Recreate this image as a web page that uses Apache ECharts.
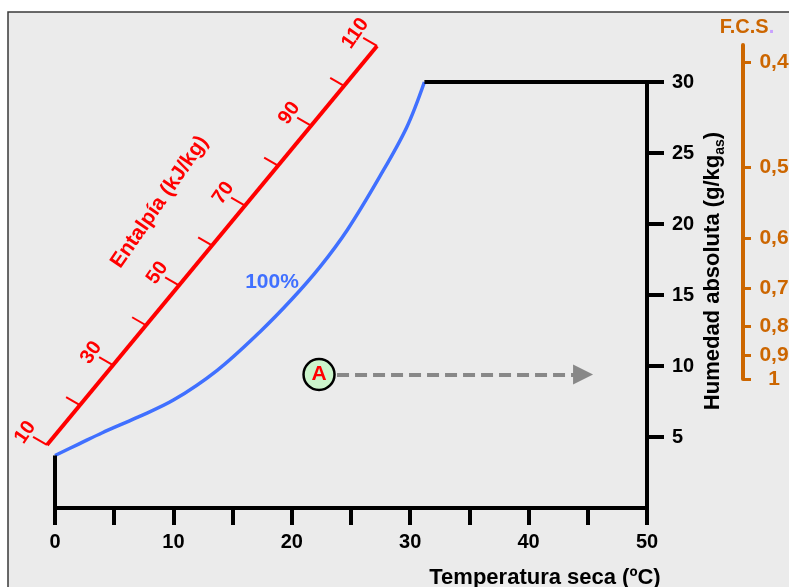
<!DOCTYPE html>
<html><head><meta charset="utf-8">
<script src="https://cdn.jsdelivr.net/npm/echarts@6/dist/echarts.min.js"></script>
<style>html,body{margin:0;padding:0;background:#fff}#c{width:789px;height:587px}</style>
</head><body><div id="c"></div>
<script>
// ---- data ----
const saturationT = [0, 2, 4, 7, 10, 13.7, 17.3, 20, 22.4, 24.7, 27.4, 29.7, 31.2];
const saturationW = [3.7, 4.5, 5.3, 6.4, 7.6, 9.7, 12.4, 14.7, 17.0, 19.6, 23.3, 26.8, 30];
const yTickLabels = [5, 10, 15, 20, 25, 30];
const fcsTicks = [0.4, 0.5, 0.6, 0.7, 0.8, 0.9, 1];
const enthalpyTicks = [10, 20, 30, 40, 50, 60, 70, 80, 90, 100, 110];
const enthalpyLabels = [10, 30, 50, 70, 90, 110];
const enthalpyScaleStart = [-0.68, 4.44];   // h = 10 kJ/kg
const enthalpyScaleEnd = [27.2, 32.54];     // h = 110 kJ/kg
const pointA = [22.3, 9.4];
const arrowEndT = 44.6;

// ---- helpers ----
const FONT = '"Liberation Sans", Arial, sans-serif';
const ORANGE = '#cc6600';
const fcsValue = f => 1 / f - 1;
const fcsPositions = fcsTicks.map(fcsValue);
const fmtFcs = v => {
  const f = 1 / (1 + v);
  const r = Math.round(f * 10) / 10;
  return r === 1 ? '1' : r.toFixed(1).replace('.', ',');
};
const hMin = enthalpyTicks[0], hMax = enthalpyTicks[enthalpyTicks.length - 1];

const chart = echarts.init(document.getElementById('c'));
chart.setOption({
  backgroundColor: '#ffffff',
  animation: false,
  textStyle: { fontFamily: FONT },
  graphic: [
    { type: 'rect', z: -10, silent: true,
      shape: { x: 8, y: 12, width: 800, height: 600 },
      style: { fill: '#ebebeb', stroke: '#3a3a3a', lineWidth: 1.5 } },
    { type: 'text', x: 545, y: 578,
      style: { text: 'Temperatura seca (ºC)', font: 'bold 22px ' + FONT, fill: '#000',
               align: 'center', verticalAlign: 'middle', textAlign: 'center', textVerticalAlign: 'middle' } },
    { type: 'text', x: 713, y: 271, rotation: Math.PI / 2,
      style: { text: 'Humedad absoluta (g/kg{s|as})', font: 'bold 22px ' + FONT, fill: '#000',
               align: 'center', verticalAlign: 'middle', textAlign: 'center', textVerticalAlign: 'middle',
               rich: { s: { fontSize: 14, fontWeight: 'bold', fill: '#000', verticalAlign: 'bottom', padding: [14, 0, 0, 0] } } } },
    { type: 'text', x: 272, y: 282,
      style: { text: '100%', font: 'bold 21px ' + FONT, fill: '#4070ff',
               align: 'center', verticalAlign: 'middle', textAlign: 'center', textVerticalAlign: 'middle' } }
  ],
  grid: [
    { left: 55, right: 142, top: 82, bottom: 79, outerBoundsMode: 'none', containLabel: false },
    { left: 700, right: 46, top: 45, bottom: 208, outerBoundsMode: 'none', containLabel: false }
  ],
  xAxis: [
    { type: 'value', gridIndex: 0, min: 0, max: 50, interval: 5,
      axisLine: { onZero: false, lineStyle: { color: '#000', width: 4 } },
      axisTick: { length: 17, lineStyle: { color: '#000', width: 4 } },
      axisLabel: { margin: 24, color: '#000', fontSize: 20, fontWeight: 'bold',
                   formatter: v => (v % 10 === 0 ? String(v) : '') },
      splitLine: { show: false } },
    { type: 'value', gridIndex: 1, min: 0, max: 1, show: false }
  ],
  yAxis: [
    { type: 'value', gridIndex: 0, position: 'right', min: 0, max: 30, interval: 5,
      axisLine: { show: true, onZero: false, lineStyle: { color: '#000', width: 4 } },
      axisTick: { show: true, length: 17, customValues: yTickLabels, lineStyle: { color: '#000', width: 4 } },
      axisLabel: { margin: 25, color: '#000', fontSize: 20, fontWeight: 'bold', customValues: yTickLabels },
      splitLine: { show: false } },
    { type: 'value', gridIndex: 1, position: 'right', min: 0, max: 1.58,
      axisLine: { show: true, onZero: false, lineStyle: { color: ORANGE, width: 4 } },
      axisTick: { show: true, length: 8, customValues: fcsPositions, lineStyle: { color: ORANGE, width: 3 } },
      axisLabel: { margin: 31, align: 'center', color: ORANGE, fontSize: 21, fontWeight: 'bold',
                   customValues: fcsPositions, formatter: v => fmtFcs(v) },
      splitLine: { show: false },
      name: '{a|F.C.S}{b|.}', nameLocation: 'end', nameGap: 8,
      nameTextStyle: { padding: [0, 0, 0, 8],
        rich: { a: { color: ORANGE, fontSize: 20, fontWeight: 'bold' },
                b: { color: '#c8a0ff', fontSize: 20, fontWeight: 'bold' } } } }
  ],
  series: [
    { type: 'line', name: '100%', xAxisIndex: 0, yAxisIndex: 0, smooth: 0.35, showSymbol: false,
      data: saturationT.map((t, i) => [t, saturationW[i]]),
      lineStyle: { color: '#4070ff', width: 3.5 }, z: 3 },
    { type: 'line', xAxisIndex: 0, yAxisIndex: 0, showSymbol: false, clip: false,
      data: [[saturationT[0], 0], [saturationT[0], saturationW[0]]],
      lineStyle: { color: '#000', width: 4, cap: 'butt' }, z: 4 },
    { type: 'line', xAxisIndex: 0, yAxisIndex: 0, showSymbol: false, clip: false,
      data: [[saturationT[saturationT.length - 1], saturationW[saturationW.length - 1]], [50, 30]],
      lineStyle: { color: '#000', width: 4 }, z: 4 },
    { type: 'lines', coordinateSystem: 'cartesian2d', xAxisIndex: 0, yAxisIndex: 0,
      symbol: ['none', 'triangle'], symbolSize: 20,
      lineStyle: { color: '#888888', width: 4, type: [12, 6], opacity: 1 },
      data: [{ coords: [pointA, [arrowEndT, pointA[1]]] }], z: 5 },
    { type: 'scatter', xAxisIndex: 0, yAxisIndex: 0, data: [pointA], symbol: 'circle', symbolSize: 31,
      itemStyle: { color: '#ccf5cc', borderColor: '#000', borderWidth: 2.5, opacity: 1 },
      label: { show: true, position: 'inside', formatter: 'A', color: '#ff0000', fontSize: 21, fontWeight: 'bold' },
      z: 10 },
    { type: 'custom', xAxisIndex: 0, yAxisIndex: 0, clip: false, z: 6,
      data: [[0, 0]],
      renderItem: function (params, api) {
        const p0 = api.coord(enthalpyScaleStart);
        const p1 = api.coord(enthalpyScaleEnd);
        const ang = Math.atan2(-(p1[1] - p0[1]), p1[0] - p0[0]);
        const txtRot = ang + 5 * Math.PI / 180;
        const td = [-Math.cos(Math.PI / 6), -Math.sin(Math.PI / 6)];
        const at = h => {
          const t = (h - hMin) / (hMax - hMin);
          return [p0[0] + t * (p1[0] - p0[0]), p0[1] + t * (p1[1] - p0[1])];
        };
        const children = [{
          type: 'line', shape: { x1: p0[0], y1: p0[1], x2: p1[0], y2: p1[1] },
          style: { stroke: '#ff0000', lineWidth: 4 }
        }];
        enthalpyTicks.forEach(h => {
          const p = at(h);
          children.push({ type: 'line',
            shape: { x1: p[0], y1: p[1], x2: p[0] + td[0] * 16, y2: p[1] + td[1] * 16 },
            style: { stroke: '#ff0000', lineWidth: 2 } });
        });
        enthalpyLabels.forEach(h => {
          const p = at(h);
          children.push({ type: 'text', x: p[0] + td[0] * 25, y: p[1] + td[1] * 25, rotation: txtRot,
            style: { text: String(h), fill: '#ff0000', font: 'bold 20px ' + FONT,
                     align: 'center', verticalAlign: 'middle', textAlign: 'center', textVerticalAlign: 'middle' } });
        });
        const pm = at((hMin + hMax) / 2);
        const perp = [-Math.sin(ang), -Math.cos(ang)];
        children.push({ type: 'text', x: pm[0] + perp[0] * 68, y: pm[1] + perp[1] * 68, rotation: txtRot,
          style: { text: 'Entalpía (kJ/kg)', fill: '#ff0000', font: 'bold 21px ' + FONT,
                   align: 'center', verticalAlign: 'middle', textAlign: 'center', textVerticalAlign: 'middle' } });
        return { type: 'group', children: children };
      } }
  ]
});
</script></body></html>
